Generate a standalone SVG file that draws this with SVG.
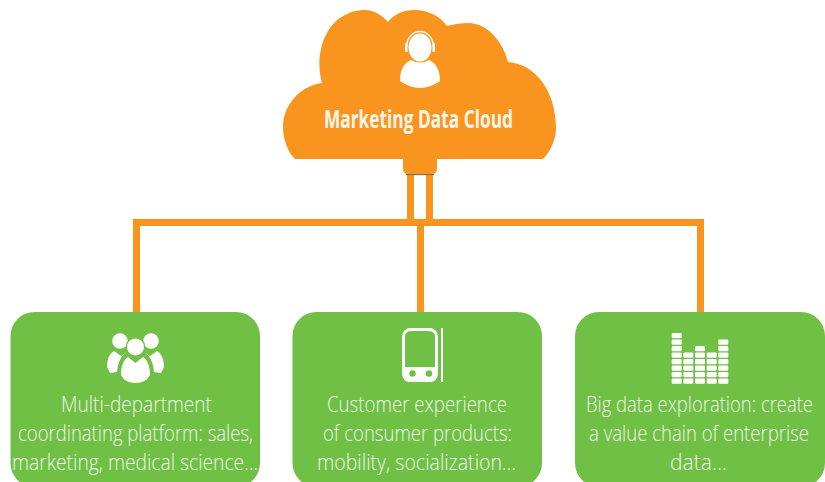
<svg xmlns="http://www.w3.org/2000/svg" width="825" height="482" viewBox="0 0 825 482">
<style>
.o{fill:#f9951f}
.g{fill:#70c045}
.w{fill:#fff}
.t{font-family:"Open Sans","Liberation Sans",sans-serif;font-weight:300;font-size:21.500px;fill:#eef7e8}
.h{font-family:"Open Sans","Liberation Sans",sans-serif;font-weight:700;font-size:25.500px;fill:#fff6ea}
</style>
<defs>
<rect id="c" width="10" height="5.200" rx="1" fill="#fff"/>
</defs>
<rect width="825" height="482" fill="#fff"/>
<g id="connectors" class="o">
<rect x="407" y="172" width="7" height="50"/>
<rect x="426" y="172" width="7" height="50"/>
<rect x="133" y="219" width="571" height="7"/>
<rect x="133" y="219" width="7" height="94"/>
<rect x="417" y="219" width="7" height="94"/>
<rect x="697" y="219" width="7" height="94"/>
</g>
<g id="cloud">
<path class="o" d="M295 159C288 152 283 140 283 127C283 105 300 86 322 83C318 70 318 50 326 35C334 18 350 10 365 10C374 10 382 15 388 22C394 14 404 10 414 10C428 10 440 16 447 26C454 24 462 23 470 23C488 24 503 42 508 62C536 64 556 92 556 128C556 140 550 152 543 159Z"/>
<path class="o" d="M403 158H437V168Q437 175 430 175H410Q403 175 403 168Z"/>
<rect x="406" y="174" width="28" height="1.200" fill="#77726c"/>
<ellipse class="w" cx="420" cy="47.500" rx="11.500" ry="14"/>
<path d="M406.500 47A13.500 15.500 0 0 1 433.500 47" fill="none" stroke="#fff" stroke-width="1.300"/>
<rect class="w" x="405" y="43" width="2.500" height="9" rx="1"/>
<rect class="w" x="432.500" y="43" width="2.500" height="9" rx="1"/>
<path class="w" d="M411 60Q420 65 429 60C436 63 440 70 440 81Q430 88 420 88Q410 88 400 81C400 70 404 63 411 60Z"/>
<text class="h" x="418.500" y="128" text-anchor="middle" textLength="189" lengthAdjust="spacingAndGlyphs">Marketing Data Cloud</text>
</g>
<g id="card1">
<rect class="g" x="10.500" y="312" width="249.500" height="175" rx="24"/>
<circle class="w" cx="120" cy="341" r="7.800"/>
<circle class="w" cx="151" cy="341" r="7.800"/>
<path class="w" d="M114 351L121 356L126 352.500Q118 358 117 372L110 373L107 367C107 360 109 354 114 351Z"/>
<path class="w" d="M157 351L150 356L145 352.500Q153 358 154 372L161 373L164 367C164 360 162 354 157 351Z"/>
<circle cx="135.500" cy="347" r="10" class="g"/>
<circle class="w" cx="135.500" cy="347" r="8.500"/>
<path class="w" d="M128 357L135.500 363L143 357C148 360 150 367 150 375Q146 383 135.500 383Q125 383 121 375C121 367 123 360 128 357Z"/>
<text class="t" x="136.500" y="412" text-anchor="middle" textLength="151" lengthAdjust="spacingAndGlyphs">Multi-department</text>
<text class="t" x="135.500" y="441" text-anchor="middle" textLength="235" lengthAdjust="spacingAndGlyphs">coordinating platform: sales,</text>
<text class="t" x="135" y="470" text-anchor="middle" textLength="246" lengthAdjust="spacingAndGlyphs">marketing, medical science…</text>
</g>
<g id="card2">
<rect class="g" x="292.500" y="312" width="249.500" height="175" rx="24"/>
<rect x="403.500" y="329.500" width="33" height="51" rx="7" fill="none" stroke="#fff" stroke-width="3"/>
<path class="w" d="M403 367H437V375Q437 382 430 382H410Q403 382 403 375Z"/>
<circle class="g" cx="412.500" cy="373.500" r="3.200"/>
<circle class="g" cx="429" cy="373.500" r="3.200"/>
<rect class="w" x="441" y="328" width="2" height="54"/>
<text class="t" x="417" y="412" text-anchor="middle" textLength="180" lengthAdjust="spacingAndGlyphs">Customer experience</text>
<text class="t" x="417.500" y="441" text-anchor="middle" textLength="189" lengthAdjust="spacingAndGlyphs">of consumer products:</text>
<text class="t" x="416.500" y="470" text-anchor="middle" textLength="199" lengthAdjust="spacingAndGlyphs">mobility, socialization…</text>
</g>
<g id="card3">
<rect class="g" x="575" y="312" width="250" height="175" rx="24"/>
<use href="#c" x="671.700" y="333"/><use href="#c" x="671.700" y="339.500"/><use href="#c" x="671.700" y="346"/><use href="#c" x="671.700" y="352.500"/><use href="#c" x="671.700" y="359"/><use href="#c" x="671.700" y="365.500"/><use href="#c" x="671.700" y="372"/><use href="#c" x="671.700" y="378.500"/>
<use href="#c" x="683.300" y="352.500"/><use href="#c" x="683.300" y="359"/><use href="#c" x="683.300" y="365.500"/><use href="#c" x="683.300" y="372"/><use href="#c" x="683.300" y="378.500"/>
<use href="#c" x="695" y="346"/><use href="#c" x="695" y="352.500"/><use href="#c" x="695" y="359"/><use href="#c" x="695" y="365.500"/><use href="#c" x="695" y="372"/><use href="#c" x="695" y="378.500"/>
<use href="#c" x="706.700" y="352.500"/><use href="#c" x="706.700" y="359"/><use href="#c" x="706.700" y="365.500"/><use href="#c" x="706.700" y="372"/><use href="#c" x="706.700" y="378.500"/>
<use href="#c" x="718.300" y="339.500"/><use href="#c" x="718.300" y="346"/><use href="#c" x="718.300" y="352.500"/><use href="#c" x="718.300" y="359"/><use href="#c" x="718.300" y="365.500"/><use href="#c" x="718.300" y="372"/><use href="#c" x="718.300" y="378.500"/>
<text class="t" transform="translate(699.500 412) scale(.8 1)" text-anchor="middle" textLength="283.750" lengthAdjust="spacingAndGlyphs">Big data exploration: create</text>
<text class="t" transform="translate(699 441) scale(.8 1)" text-anchor="middle" textLength="275" lengthAdjust="spacingAndGlyphs">a value chain of enterprise</text>
<text class="t" x="698.500" y="470" text-anchor="middle" textLength="57" lengthAdjust="spacingAndGlyphs">data…</text>
</g>
</svg>
